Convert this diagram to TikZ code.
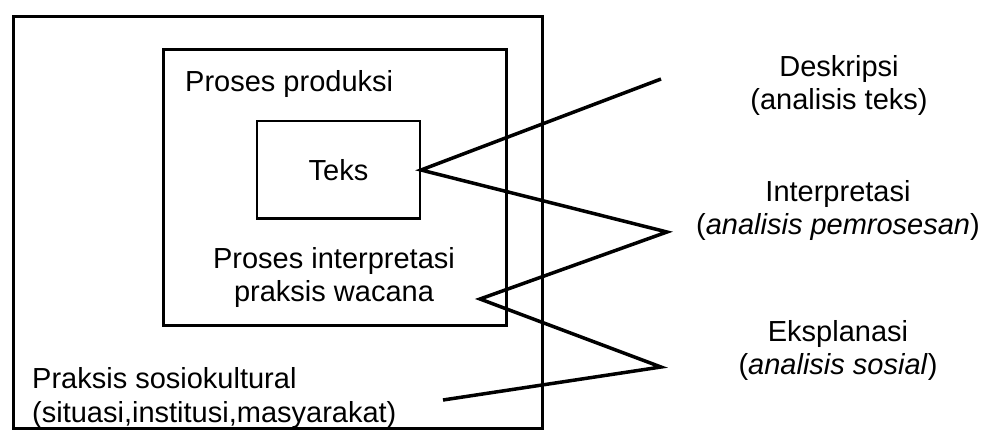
\documentclass[tikz,border=0pt]{standalone}
\usepackage{fontspec}
\setmainfont{Liberation Sans}
\begin{document}
\begin{tikzpicture}[x=1pt,y=-1pt,
  lbl/.style={inner sep=0pt, font=\fontsize{29}{33}\selectfont},
  frame/.style={draw, line width=3pt, inner sep=0pt},
  conn/.style={line width=3.5pt, line join=miter, miter limit=20}]
\useasboundingbox (0,0) rectangle (986,433);
% boxes
\node[frame, minimum width=529pt, minimum height=411pt] (outer) at (277.5,222.5) {};
\node[frame, minimum width=343pt, minimum height=275pt] (inner) at (334.5,187.5) {};
\node[draw, line width=2pt, inner sep=0pt, minimum width=163pt, minimum height=97pt,
      font=\fontsize{29}{33}\selectfont] (teks) at (338.5,170) {Teks};
% texts inside
\node[lbl, anchor=west] (prod) at (185,84) {Proses produksi};
\node[lbl, align=center] (interp) at (334,278) {Proses interpretasi\\praksis wacana};
\node[lbl, align=left, anchor=west] (sosio) at (32,398) {Praksis sosiokultural\\(situasi,institusi,masyarakat)};
% texts right
\node[lbl, align=center] (desk) at (839,85) {Deskripsi\\(analisis teks)};
\node[lbl, align=center] (inter) at (838,211) {Interpretasi\\(\textit{analisis pemrosesan})};
\node[lbl, align=center] (ekspl) at (838,350) {Eksplanasi\\(\textit{analisis sosial})};
% connector points
\coordinate (p1) at (661,79);
\coordinate (p2) at (667,232);
\coordinate (p3) at (480,299);
\coordinate (p4) at (661,367);
\coordinate (p5) at (443,400);
\draw[conn] (p1) -- (teks.east) -- (p2) -- (p3) -- (p4) -- (p5);
\end{tikzpicture}
\end{document}
